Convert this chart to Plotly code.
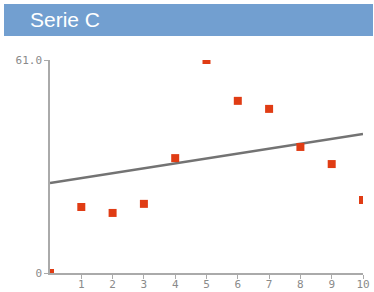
import plotly.graph_objects as go

x_vals = [0, 1, 2, 3, 4, 5, 6, 7, 8, 9, 10]
y_vals = [0, 18.9, 17.2, 19.8, 32.9, 61.0, 49.3, 47.0, 36.1, 31.2, 20.9]
trend_x = [0, 10]
trend_y = [25.8, 39.8]
y_ticks = [0, 61.0]
y_tick_text = ["0", "61.0"]
x_ticks = [1, 2, 3, 4, 5, 6, 7, 8, 9, 10]
title_text = "Serie C"

W, H = 374, 292
L, R, T, B = 50, 11, 60, 19
pw, ph = W - L - R, H - T - B

def px_x(p):
    return (p - L) / pw

def px_y(p):
    return (H - B - p) / ph

fig = go.Figure()
fig.add_trace(go.Scatter(x=trend_x, y=trend_y, mode="lines",
                         line=dict(color="#737373", width=2.5), hoverinfo="skip"))
fig.add_trace(go.Scatter(x=x_vals, y=y_vals, mode="markers",
                         marker=dict(symbol="square", size=8, color="#e03c14",
                                     line=dict(width=0))))

fig.add_shape(type="rect", xref="paper", yref="paper",
              x0=px_x(4), x1=px_x(373), y0=px_y(36), y1=px_y(4),
              fillcolor="#729fd0", line=dict(width=0), layer="below")
fig.add_annotation(text=title_text, xref="paper", yref="paper",
                   x=px_x(28), y=px_y(19), xanchor="left", yanchor="middle",
                   showarrow=False, font=dict(family="Liberation Sans, Arial", size=21, color="white"))

tick_font = dict(family="DejaVu Sans Mono", size=11, color="#8a8a8a")

fig.update_layout(
    width=W, height=H, margin=dict(l=L, r=R, t=T, b=B, autoexpand=False),
    paper_bgcolor="white", plot_bgcolor="white", showlegend=False,
    xaxis=dict(range=[0, 10], tickvals=x_ticks, ticks="outside", ticklen=4,
               tickcolor="#aaaaaa", showline=True, linecolor="#aaaaaa", linewidth=1.5,
               showgrid=False, zeroline=False, automargin=False,
               ticklabelstandoff=-4, tickfont=tick_font),
    yaxis=dict(range=[0, 61], tickvals=y_ticks, ticktext=y_tick_text, ticks="outside",
               ticklen=4, tickcolor="#aaaaaa", showline=True, linecolor="#aaaaaa",
               linewidth=1.5, showgrid=False, zeroline=False, automargin=False,
               tickfont=tick_font),
)

fig.write_html("out.html", config={"displayModeBar": False},
               post_script="document.body.style.margin='0';document.body.style.overflow='hidden';")
